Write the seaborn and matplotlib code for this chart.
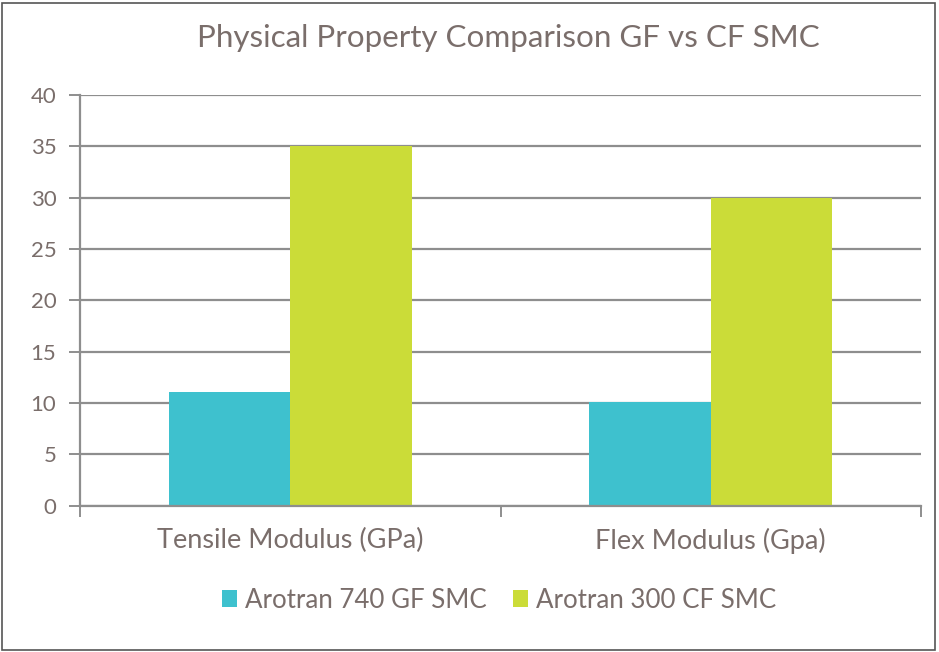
import matplotlib
matplotlib.use("Agg")
import matplotlib.pyplot as plt
import seaborn as sns
import pandas as pd
from matplotlib.patches import Patch, Rectangle

categories = ["Tensile Modulus (GPa)", "Flex Modulus (Gpa)"]
series = ["Arotran 740 GF SMC", "Arotran 300 CF SMC"]
gf_values = [11.1, 10.1]
cf_values = [35.0, 30.0]
yticks = [0, 5, 10, 15, 20, 25, 30, 35, 40]
title = "Physical Property Comparison GF vs CF SMC"

colors = ["#3EC1CE", "#CBDC38"]
text_color = "#7A6E6B"
grid_color = "#8E8E8E"

df = pd.DataFrame({
    "category": categories * 2,
    "series": [series[0]] * 2 + [series[1]] * 2,
    "value": gf_values + cf_values,
})

sns.set_theme(style="white")
plt.rcParams["font.family"] = ["Lato", "DejaVu Sans"]

fig = plt.figure(figsize=(9.39, 6.52), dpi=100)
ax = fig.add_axes([80 / 939, 1 - 505.5 / 652, 841 / 939, 410.5 / 652])

sns.barplot(data=df, x="category", y="value", hue="series", order=categories,
            hue_order=series, palette=colors, width=0.578, gap=0,
            saturation=1, ax=ax, legend=False, linewidth=0, edgecolor="none")

ax.set_xlim(-0.5, 1.5)
ax.set_ylim(0, 40)
ax.set_yticks(yticks)
ax.set_yticklabels([str(t) for t in yticks], fontsize=16, color=text_color)
ax.yaxis.grid(True, color=grid_color, linewidth=1.6)
ax.set_axisbelow(True)
ax.set_xlabel("")
ax.set_ylabel("")

for s in ["top", "right"]:
    ax.spines[s].set_visible(False)
for s in ["left", "bottom"]:
    ax.spines[s].set_color(grid_color)
    ax.spines[s].set_linewidth(1.6)

ax.tick_params(axis="y", which="major", left=True, length=8, width=1.4,
               color=grid_color, pad=9, direction="out")
ax.tick_params(axis="x", which="major", bottom=False, length=0, pad=16,
               labelsize=19.5, labelcolor=text_color)
ax.set_xticks([-0.5, 0.5, 1.5], minor=True)
ax.tick_params(axis="x", which="minor", bottom=True, length=8, width=1.4,
               color=grid_color, direction="out")

fig.text(508 / 939, 1 - 38 / 652, title, ha="center", va="center",
         fontsize=22.6, color=text_color)

handles = [Patch(facecolor=c, edgecolor="none") for c in colors]
fig.legend(handles, series, loc="center", bbox_to_anchor=(499 / 939, 1 - 600 / 652),
           ncol=2, frameon=False, fontsize=18.6, labelcolor=text_color,
           handlelength=0.6, handleheight=0.6, handletextpad=0.3, columnspacing=1.0)

fig.patches.append(Rectangle((2 / 939, 2 / 652), 933 / 939, 647 / 652,
                             transform=fig.transFigure, fill=False,
                             edgecolor="#555555", linewidth=1.2))

fig.savefig("out.png", dpi=100)
